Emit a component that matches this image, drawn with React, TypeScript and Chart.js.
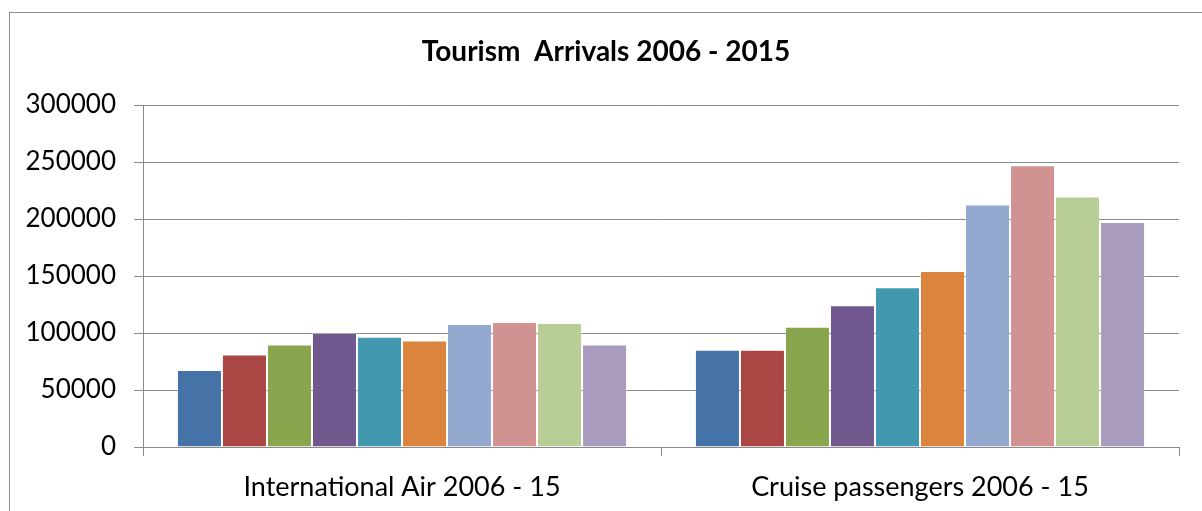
import React, { useEffect, useRef } from "react";
import { Chart, registerables } from "chart.js";

Chart.register(...registerables);

const TITLE = "Tourism  Arrivals 2006 - 2015";
const categories = ["International Air 2006 - 15", "Cruise passengers 2006 - 15"];
const years = ["2006", "2007", "2008", "2009", "2010", "2011", "2012", "2013", "2014", "2015"];
const airArrivals = [67600, 81200, 90000, 100000, 96800, 93500, 108000, 109700, 108800, 90000];
const cruiseArrivals = [85200, 85200, 105400, 124400, 140200, 154300, 212800, 247100, 219800, 197300];
const yearColors = ["#4572A7", "#AA4643", "#89A54E", "#71588F", "#4198AF", "#DB843D", "#93A9CF", "#D19392", "#B9CD96", "#A99BBD"];
const yTicks = [0, 50000, 100000, 150000, 200000, 250000, 300000];

const FONT = "Lato, 'Open Sans', sans-serif";

export default function App() {
  const ref = useRef<HTMLCanvasElement>(null);
  useEffect(() => {
    if (!ref.current) return;
    const frame = {
      id: "frame",
      beforeDraw(chart: any) {
        const c = chart.ctx;
        c.save();
        c.fillStyle = "#ffffff";
        c.fillRect(0, 0, chart.width, chart.height);
        c.strokeStyle = "#8c8c8c";
        c.lineWidth = 1;
        c.strokeRect(9.5, 12.5, 1400, 700);
        c.fillStyle = "#000000";
        c.font = "bold 28px " + FONT;
        c.textAlign = "center";
        c.textBaseline = "middle";
        c.fillText(TITLE, 606, 52);
        c.restore();
      },
    };
    const chart = new Chart(ref.current, {
      type: "bar",
      data: {
        labels: categories,
        datasets: years.map((y, i) => ({
          label: y,
          data: [airArrivals[i], cruiseArrivals[i]],
          backgroundColor: yearColors[i],
          borderColor: "rgba(255,255,255,0.25)",
          borderWidth: 1,
          categoryPercentage: 0.869,
          barPercentage: 1,
        })),
      },
      options: {
        animation: false,
        responsive: false,
        devicePixelRatio: 1,
        layout: { padding: { top: 105, right: 23, bottom: 0, left: 0 } },
        plugins: { legend: { display: false }, title: { display: false }, tooltip: { enabled: false } },
        scales: {
          x: {
            afterFit(scale: any) { scale.height = 64; },
            grid: { display: true, drawOnChartArea: false, drawTicks: true, tickLength: 9, color: "#8a8a8a", offset: true },
            border: { display: true, color: "#8a8a8a" },
            ticks: { color: "#000", font: { family: FONT, size: 27 }, padding: 15, maxRotation: 0 },
          },
          y: {
            min: 0,
            max: 300000,
            afterFit(scale: any) { scale.width = 143; },
            afterBuildTicks(scale: any) { scale.ticks = yTicks.map((v) => ({ value: v })); },
            grid: { color: "#8a8a8a", tickLength: 9, drawTicks: true },
            border: { display: true, color: "#8a8a8a" },
            ticks: {
              color: "#000",
              font: { family: FONT, size: 26 },
              padding: 18,
              callback: (v: any) => String(v),
            },
          },
        },
      },
      plugins: [frame],
    });
    return () => chart.destroy();
  }, []);
  return (
    <div style={{ position: "absolute", left: 0, top: 0, width: 1202, height: 511 }}>
      <canvas ref={ref} width={1202} height={511} style={{ display: "block" }} />
    </div>
  );
}
